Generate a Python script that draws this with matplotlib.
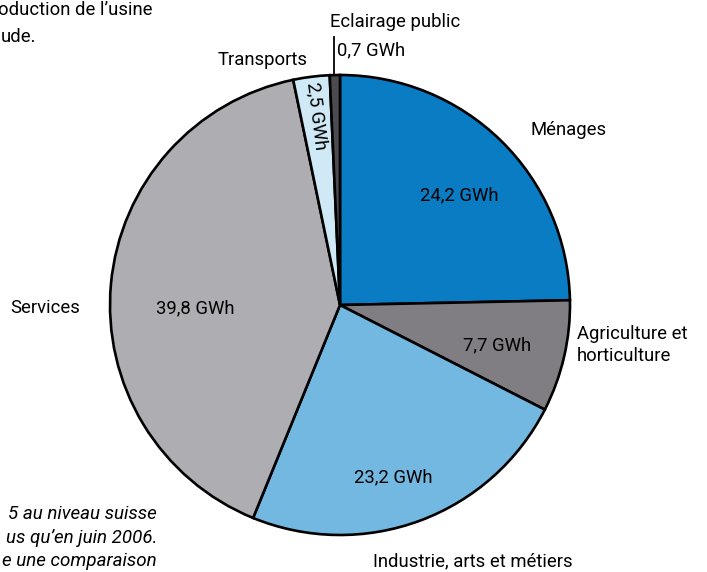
import matplotlib.pyplot as plt

# Data
categories = ['Ménages', 'Agriculture et\nhorticulture', 'Industrie, arts et métiers',
              'Services', 'Transports', 'Eclairage public']
values = [24.2, 7.7, 23.2, 39.8, 2.5, 0.7]
value_labels = ['24,2 GWh', '7,7 GWh', '23,2 GWh', '39,8 GWh', '2,5 GWh', '0,7 GWh']
colors = ['#0a7cc3', '#807e83', '#72b8e1', '#aeaeb2', '#cfe9f7', '#4b4b50']

W, H = 707, 572
plt.rcParams['font.family'] = ['Roboto', 'DejaVu Sans']

fig = plt.figure(figsize=(W / 100, H / 100), dpi=100)
ax = fig.add_axes([0, 0, 1, 1])

cx, cy, r = 340, H - 305, 230
ax.pie(values, colors=colors, startangle=90, counterclock=False,
       center=(cx, cy), radius=r, frame=True,
       wedgeprops=dict(edgecolor='black', linewidth=1.9))
ax.set_xlim(0, W)
ax.set_ylim(0, H)
ax.set_aspect('equal')
ax.axis('off')

fs = 13.3

def px(x, y, s, **kw):
    kw.setdefault('fontsize', fs)
    kw.setdefault('ha', 'center')
    kw.setdefault('va', 'center')
    ax.text(x, H - y, s, **kw)

# Category labels
px(569, 130, categories[0])
px(577, 345, categories[1], ha='left', linespacing=1.3)
px(473, 561, categories[2])
px(45, 308, categories[3])
px(263, 60, categories[4])
px(395, 22, categories[5])

# Value labels
px(459, 195, value_labels[0])
px(497, 345, value_labels[1])
px(393, 477, value_labels[2])
px(195, 308, value_labels[3])
px(317, 116, value_labels[4], rotation=-83, rotation_mode='anchor')
px(337, 50, value_labels[5], ha='left')

# Leader line for Eclairage public
ax.plot([334, 334], [H - 37, H - 73], color='black', linewidth=1.3)

# Surrounding text (visible parts only)
px(153, 10, "oduction de l’usine", ha='right')
px(36, 37, "ude.", ha='right')
px(157, 514, "5 au niveau suisse", ha='right', style='italic', fontsize=13.5)
px(157, 538, "us qu’en juin 2006.", ha='right', style='italic', fontsize=13.5)
px(157, 561, "e une comparaison", ha='right', style='italic', fontsize=13.5)

fig.savefig('out.png', dpi=100)
